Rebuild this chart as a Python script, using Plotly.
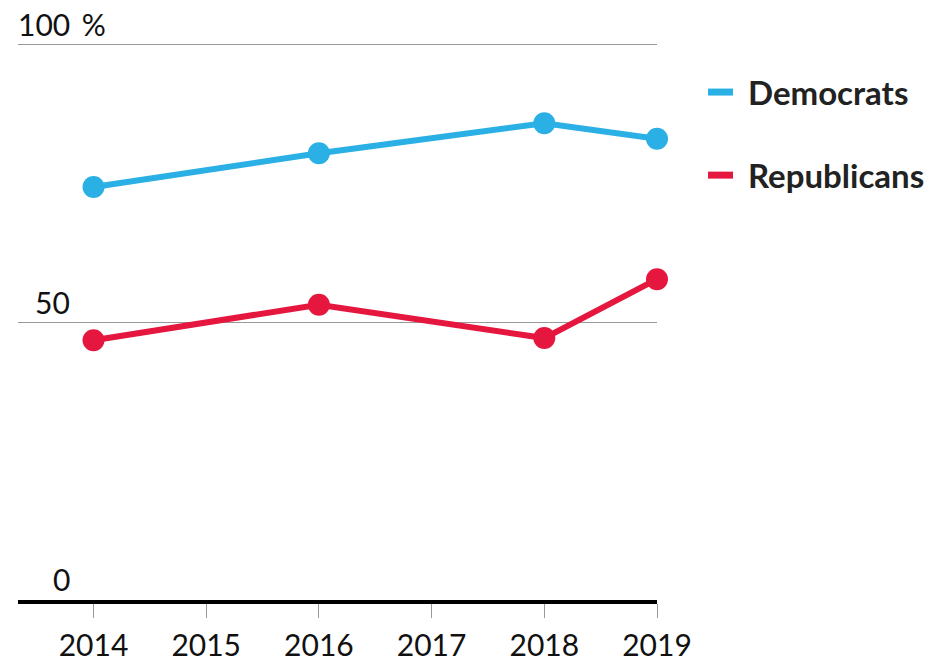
import plotly.graph_objects as go

years = [2014, 2016, 2018, 2019]
democrats = [74.4, 80.5, 85.9, 83.1]
republicans = [46.8, 53.2, 47.2, 57.8]

tick_years = [2014, 2015, 2016, 2017, 2018, 2019]
y_ticks = [0, 50, 100]
y_labels = ["0", "50", "100"]

blue = "#2ab0e4"
red = "#e5173e"
font = "Lato"

fig = go.Figure()
for name, vals, col in [("Democrats", democrats, blue), ("Republicans", republicans, red)]:
    fig.add_trace(go.Scatter(
        x=years, y=vals, name=name, mode="lines+markers",
        line=dict(color=col, width=6),
        marker=dict(color=col, size=22),
        cliponaxis=False, showlegend=False
    ))

# y labels sit above the gridlines, right aligned
for v, t in zip(y_ticks, y_labels):
    fig.add_annotation(x=0.0845, xref="paper", y=v, yref="y", text=t, height=30,
                       showarrow=False, xanchor="right", yanchor="bottom", yshift=4,
                       font=dict(family=font, size=30, color="#111"))
fig.add_annotation(x=0.0845, xref="paper", y=100, yref="y", text="&nbsp;%", height=30,
                   showarrow=False, xanchor="left", yanchor="bottom", yshift=4,
                   font=dict(family=font, size=30, color="#111"))

# legend
for name, col, ly in [("Democrats", blue, 0.899), ("Republicans", red, 0.752)]:
    fig.add_shape(type="line", xref="paper", yref="paper",
                  x0=1.0798, x1=1.1189, y0=ly, y1=ly,
                  line=dict(color=col, width=7))
    fig.add_annotation(x=1.140, xref="paper", y=ly, yref="paper", text="<b>%s</b>" % name,
                       showarrow=False, xanchor="left", yanchor="middle",
                       font=dict(family=font, size=33, color="#222"))

fig.update_layout(
    width=931, height=656,
    margin=dict(l=10, r=282, t=27, b=64),
    plot_bgcolor="white", paper_bgcolor="white",
    font=dict(family=font, size=30, color="#111"),
    xaxis=dict(
        range=[2013.33, 2019], tickvals=tick_years, showgrid=False, zeroline=False,
        showline=True, linecolor="black", linewidth=4,
        ticks="outside", ticklen=14, tickcolor="#999", tickwidth=1,
        ticklabelstandoff=2, automargin=False,
        tickfont=dict(family=font, size=30, color="#111")
    ),
    yaxis=dict(
        range=[0, 101.8], tickvals=y_ticks, showticklabels=False, automargin=False,
        showgrid=True, gridcolor="#999", gridwidth=1, zeroline=False
    )
)

fig.write_html("out.html")
